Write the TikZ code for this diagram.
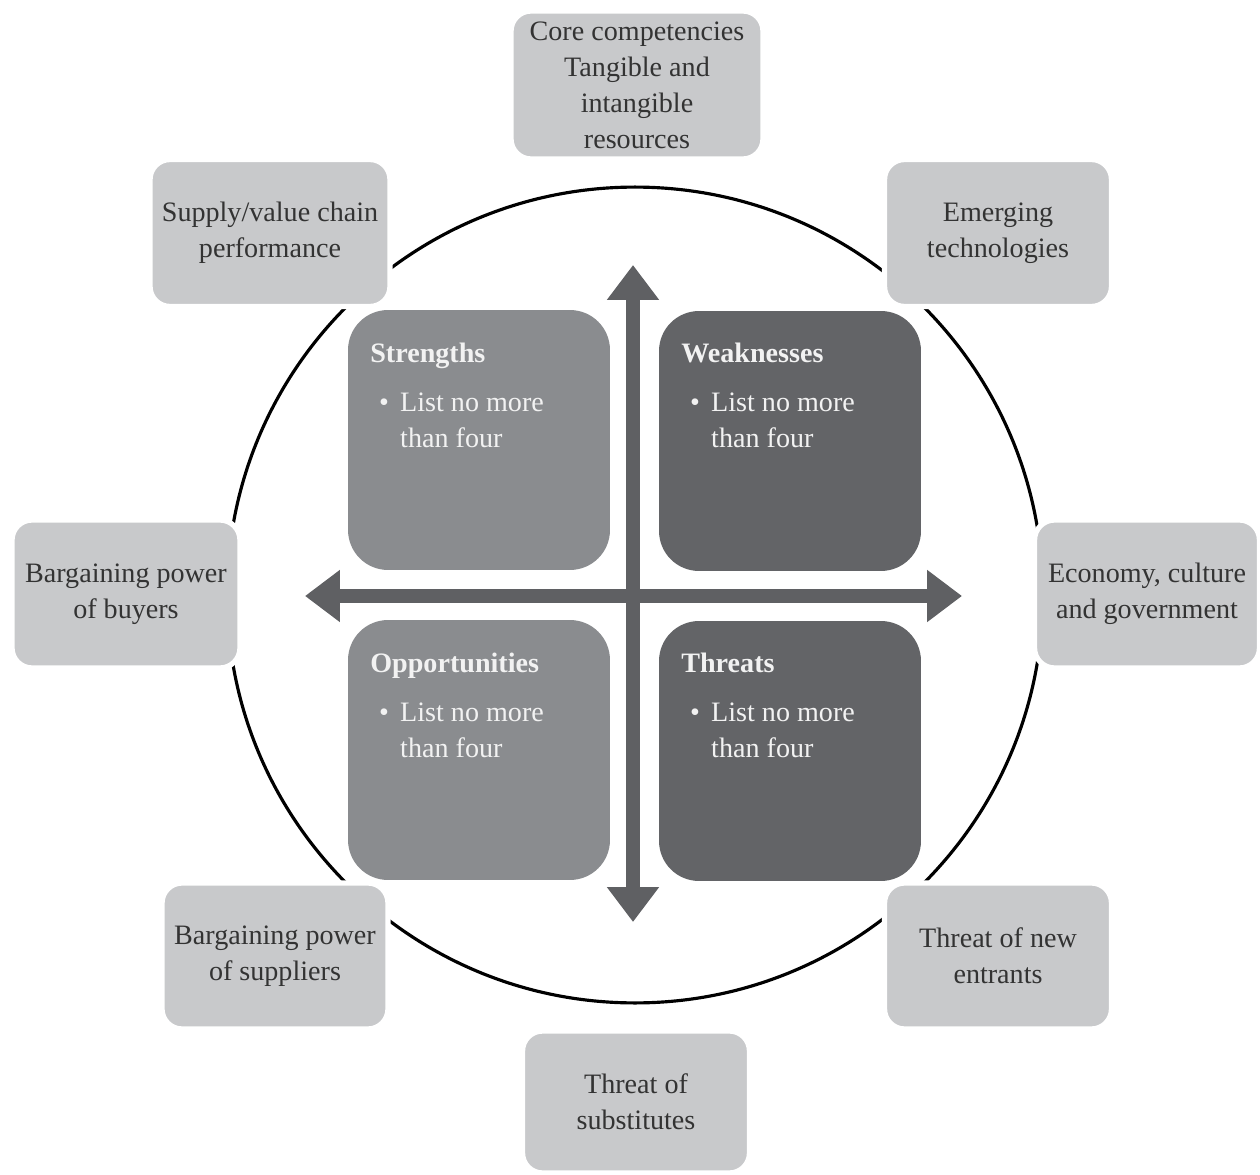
\documentclass[tikz,border=0pt]{standalone}
\usepackage{fontspec}
\setmainfont{Liberation Serif}
\usetikzlibrary{arrows.meta}
\definecolor{outerfill}{HTML}{C8C9CB}
\definecolor{outertext}{HTML}{333333}
\definecolor{lightq}{HTML}{8A8C8F}
\definecolor{darkq}{HTML}{636467}
\definecolor{arrowc}{HTML}{5F6063}
\definecolor{qtext}{HTML}{F2F2F2}
\newcommand{\quadtext}[1]{\textbf{#1}\\[7pt]\makebox[17pt][l]{\hspace*{5pt}\textbullet}List no more\\\hspace*{17pt}than four}
\begin{document}
\begin{tikzpicture}[x=0.02cm,y=-0.02cm,
  outerbox/.style={rectangle, rounded corners=0.4cm, fill=outerfill, draw=white, line width=3pt,
    text=outertext, align=center, font=\fontsize{16}{20.5}\selectfont, inner sep=2pt},
  quad/.style={rectangle, rounded corners=0.8cm, minimum width=5.24cm, minimum height=5.2cm, draw=none},
  qlabel/.style={anchor=north west, text=qtext, align=left, inner sep=0pt,
    font=\fontsize{16}{20.5}\selectfont},
  axis/.style={line width=0.28cm, draw=arrowc,
    {Triangle[width=1.0cm,length=0.7cm]}-{Triangle[width=1.0cm,length=0.7cm]}}
]
\useasboundingbox (0,0) rectangle (1260,1175);
\fill[white] (0,0) rectangle (1260,1175);

% circle
\draw[line width=1.8pt, black] (635,595) circle [radius=8.16cm];

% outer boxes
\node[outerbox, minimum width=5.04cm, minimum height=2.96cm] (core) at (637,85)
  {Core competencies\\Tangible and\\intangible\\resources};
\node[outerbox, minimum width=4.8cm, minimum height=2.94cm] (supply) at (270,233)
  {Supply/value chain\\performance};
\node[outerbox, minimum width=4.54cm, minimum height=2.94cm] (emerg) at (998,233)
  {Emerging\\technologies};
\node[outerbox, minimum width=4.56cm, minimum height=2.96cm] (buyers) at (126,594)
  {Bargaining power\\of buyers};
\node[outerbox, minimum width=4.5cm, minimum height=2.96cm] (econ) at (1147,594)
  {Economy, culture\\and government};
\node[outerbox, minimum width=4.52cm, minimum height=2.92cm] (suppl) at (275,956)
  {Bargaining power\\of suppliers};
\node[outerbox, minimum width=4.54cm, minimum height=2.92cm] (entr) at (998,956)
  {Threat of new\\entrants};
\node[outerbox, minimum width=4.54cm, minimum height=2.84cm] (subst) at (636,1102)
  {Threat of\\substitutes};

% quadrants
\node[quad, fill=lightq] (S) at (479,440) {};
\node[quad, fill=darkq]  (W) at (790,441) {};
\node[quad, fill=lightq] (O) at (479,750) {};
\node[quad, fill=darkq]  (T) at (790,751) {};

\node[qlabel] (Sl) at (370,343) {\quadtext{Strengths}};
\node[qlabel] (Wl) at (681,343) {\quadtext{Weaknesses}};
\node[qlabel] (Ol) at (370,653) {\quadtext{Opportunities}};
\node[qlabel] (Tl) at (681,653) {\quadtext{Threats}};

% axes
\coordinate (vtop) at (633,265);
\coordinate (vbot) at (633,922);
\coordinate (hl) at (305,596);
\coordinate (hr) at (962,596);
\draw[axis] (vtop) -- (vbot);
\draw[axis] (hl) -- (hr);
\end{tikzpicture}
\end{document}
